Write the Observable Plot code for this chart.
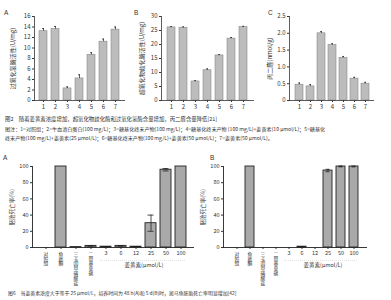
<!DOCTYPE html>
<html><head><meta charset="utf-8">
<script src="https://cdn.jsdelivr.net/npm/d3@7"></script>
<script src="https://cdn.jsdelivr.net/npm/@observablehq/plot@0.6"></script>
<style>
body{margin:0;background:#fff;}
#root{position:relative;width:391px;height:300px;overflow:hidden;font-family:"Noto Sans CJK SC","Noto Sans",sans-serif;color:#333;}
.panel{position:absolute;}
.cap{position:absolute;white-space:nowrap;line-height:1;color:#333;}
.let{position:absolute;font-size:6.5px;font-family:"Liberation Sans",Arial,sans-serif;color:#333;}
</style></head>
<body><div id="root"></div>
<script>
// ---- data ----
const groups = ["1","2","3","4","5","6","7"];
const catValues = [13.2, 13.6, 2.3, 4.2, 8.7, 11.2, 13.5];
const catErrors = [0.5, 0.5, 0.3, 0.7, 0.4, 0.5, 0.5];
const sodValues = [26.1, 26.0, 6.8, 10.8, 16.1, 22.1, 26.2];
const sodErrors = [0.3, 0.3, 0.3, 0.5, 0.3, 0.4, 0.3];
const mdaValues = [0.47, 0.42, 2.0, 1.65, 1.27, 0.65, 0.50];
const mdaErrors = [0.05, 0.05, 0.05, 0.04, 0.04, 0.04, 0.04];
const fishCats = ["对照组", "鱼藤酮", "三卡因甲磺酸盐", "二甲基亚砜", "3", "6", "12", "25", "50", "100"];
const mort48h = [0, 100, 0.5, 2, 1, 2, 1, 30, 96, 100];
const err48h  = [0, 0, 0, 0.3, 0.2, 0.3, 0.2, 10, 1.5, 0];
const mort5d  = [0, 100, 0, 0, 0, 1, 0, 95, 100, 100];
const err5d   = [0, 0, 0, 0, 0, 0.2, 0, 1.5, 0.5, 0.5];
const curcuminLabel = "姜黄素(μmol/L)";
const fig2Title = "图2　随着姜黄素浓度增加，超氧化物歧化酶和过氧化氢酶含量增加，丙二醛含量降低[21]";
const fig2Note = [
  "图注：1=对照组；2=牛血清白蛋白(100 mg/L)；3=糖基化终末产物(100 mg/L)；4=糖基化终末产物 (100 mg/L)+姜黄素(10 μmol/L)；5=糖基化",
  "终末产物(100 mg/L)+姜黄素(25 μmol/L)；6=糖基化终末产物(100 mg/L)+姜黄素(50 μmol/L)；7=姜黄素(50 μmol/L)。"
];
const fig6Title = "图6　当姜黄素浓度大于等于 25 μmol/L，培养时间为 48 h(A)和 5 d(B)时，斑马鱼胚胎死亡率明显增加[42]";

const root = document.getElementById("root");
const FONT = '"Noto Sans CJK SC","Noto Sans",sans-serif';

function place(node, left, top) {
  const d = document.createElement("div");
  d.className = "panel"; d.style.left = left + "px"; d.style.top = top + "px";
  d.appendChild(node); root.appendChild(d);
}
function text(cls, str, left, top, size) {
  const d = document.createElement("div");
  d.className = cls; d.textContent = str; d.style.left = left + "px"; d.style.top = top + "px";
  if (size) d.style.fontSize = size + "px";
  root.appendChild(d);
}

function topPanel({values, errors, domain, ticks, fmt, label, width, ml, mr, lo}) {
  const data = groups.map((g, i) => ({g, v: values[i], e: errors[i]}));
  return Plot.plot({
    width, height: 112, marginLeft: ml, marginRight: mr, marginTop: 16, marginBottom: 12,
    style: {fontSize: "6px", fontFamily: FONT, color: "#333", background: "transparent", overflow: "visible"},
    x: {domain: groups, padding: 0.3, label: null, tickSize: 2, tickPadding: 2},
    y: {domain, ticks, tickFormat: fmt, label, labelAnchor: "center", labelArrow: false, labelOffset: lo, tickSize: 2, tickPadding: 2},
    marks: [
      Plot.barY(data, {x: "g", y: "v", fill: "#bcbcbc", stroke: "#8a8a8a", strokeWidth: 0.6}),
      Plot.ruleX(data, {x: "g", y1: "v", y2: d => d.v + d.e, stroke: "#333", strokeWidth: 0.8}),
      Plot.tickY(data, {x: "g", y: d => d.v + d.e, stroke: "#333", strokeWidth: 0.8, insetLeft: 3, insetRight: 3}),
      Plot.ruleY([domain[0]], {stroke: "#333", strokeWidth: 0.8}),
      Plot.frame({anchor: "left", stroke: "#333", strokeWidth: 0.8})
    ]
  });
}

function fishPanel({values, errors, width, ml, mr}) {
  const data = fishCats.map((c, i) => ({c, v: values[i], e: errors[i]}));
  const err = data.filter(d => d.e > 0);
  const svg = Plot.plot({
    width, height: 140, marginLeft: ml, marginRight: mr, marginTop: 16, marginBottom: 43,
    style: {fontSize: "5.5px", fontFamily: FONT, color: "#333", background: "transparent", overflow: "visible"},
    x: {domain: fishCats, padding: 0.3, label: null, tickSize: 2, tickPadding: 2},
    y: {domain: [0, 100], ticks: [0, 20, 40, 60, 80, 100], label: "胚胎死亡率(%)", labelAnchor: "center",
        labelArrow: false, labelOffset: 22, tickSize: 2, tickPadding: 2},
    marks: [
      Plot.barY(data, {x: "c", y: "v", fill: "#a9a9a9", stroke: "#222", strokeWidth: 0.9}),
      Plot.ruleX(err, {x: "c", y1: d => d.v - d.e, y2: d => d.v + d.e, stroke: "#222", strokeWidth: 0.8}),
      Plot.tickY(err, {x: "c", y: d => d.v + d.e, stroke: "#222", strokeWidth: 0.8, insetLeft: 2.5, insetRight: 2.5}),
      Plot.tickY(err, {x: "c", y: d => d.v - d.e, stroke: "#222", strokeWidth: 0.8, insetLeft: 2.5, insetRight: 2.5}),
      Plot.ruleY([0], {stroke: "#222", strokeWidth: 0.9}),
      Plot.frame({anchor: "left", stroke: "#222", strokeWidth: 0.9}),
      Plot.ruleY([-16], {x1: () => "3", x2: () => "100", stroke: "#ccc", strokeWidth: 0.6, strokeDasharray: "1,1"}),
      Plot.text([curcuminLabel], {x: () => "12", y: () => -22, dx: 8, fontSize: 5.5, fill: "#333"})
    ]
  });
  // Chinese category names are written top-to-bottom, as in the reference
  d3.select(svg).selectAll('g[aria-label="x-axis tick label"] text')
    .filter(function () { return isNaN(+this.textContent); })
    .style("writing-mode", "vertical-rl")
    .style("text-anchor", "start")
    .style("font-size", "4.8px")
    .attr("y", 0).attr("dy", null);
  return svg;
}

place(topPanel({values: catValues, errors: catErrors, domain: [0, 16], ticks: d3.range(0, 17, 2), fmt: d => d,
  label: "过氧化氢酶活性(U/mg)", width: 130, ml: 34, mr: 5, lo: 24}), 0, 0);
place(topPanel({values: sodValues, errors: sodErrors, domain: [0, 30], ticks: d3.range(0, 31, 5), fmt: d => d,
  label: "超氧化物歧化酶活性(U/mg)", width: 130, ml: 31, mr: 6, lo: 22}), 130, 0);
place(topPanel({values: mdaValues, errors: mdaErrors, domain: [0, 2.5], ticks: d3.range(0, 2.51, 0.5),
  fmt: d => d === 0 ? "0" : d.toFixed(1), label: "丙二醛(nmol/g)", width: 131, ml: 29, mr: 17, lo: 22}), 260, 0);

place(fishPanel({values: mort48h, errors: err48h, width: 195, ml: 32, mr: 1}), 0, 150);
place(fishPanel({values: mort5d, errors: err5d, width: 201, ml: 33, mr: 24}), 190, 150);

text("let", "A", 4, 9); text("let", "B", 134, 9); text("let", "C", 268, 9);
text("let", "A", 3, 154); text("let", "B", 210, 154);
text("cap", fig2Title, 5, 117, 5.4);
text("cap", fig2Note[0], 5, 126, 5.1);
text("cap", fig2Note[1], 5, 135, 5.1);
text("cap", fig6Title, 8, 291, 4.9);
</script></body></html>
